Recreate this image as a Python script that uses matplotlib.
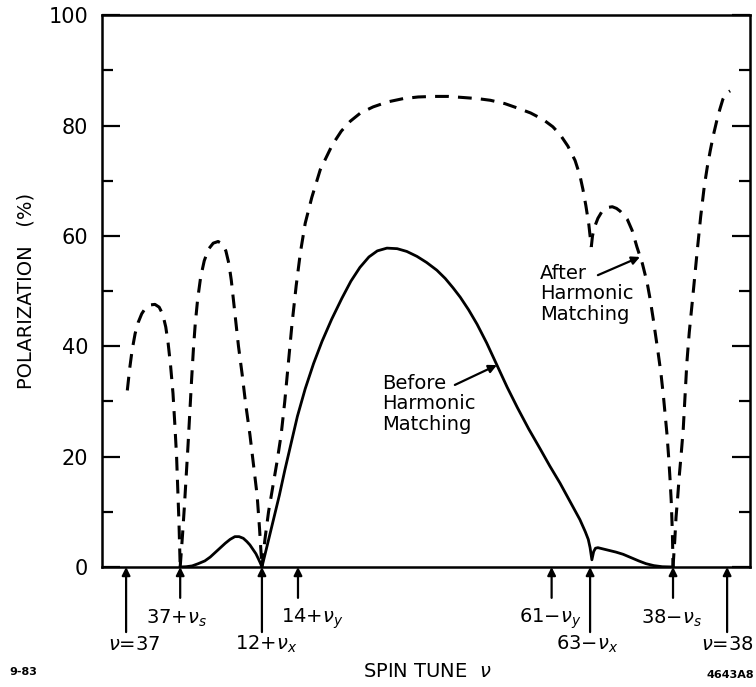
import numpy as np
import matplotlib
matplotlib.use("Agg")
import matplotlib.pyplot as plt
from matplotlib.ticker import MultipleLocator

# polarization after harmonic matching (dashed), one list per stretch between resonances
after_nu = [
    [37.002, 37.006, 37.010, 37.015, 37.020, 37.026, 37.032, 37.040, 37.048, 37.055, 37.061,
     37.066, 37.070, 37.074, 37.078, 37.081, 37.084, 37.086, 37.088, 37.090],
    [37.090, 37.094, 37.097, 37.100, 37.103, 37.106, 37.109, 37.112, 37.115, 37.119, 37.124,
     37.130, 37.137, 37.145, 37.153, 37.160, 37.166, 37.171, 37.175, 37.179, 37.183, 37.187,
     37.193, 37.199, 37.206, 37.212, 37.218, 37.222, 37.226],
    [37.226, 37.231, 37.237, 37.244, 37.251, 37.258, 37.264, 37.270, 37.276, 37.283, 37.290,
     37.298, 37.309, 37.323, 37.343, 37.358, 37.373, 37.390, 37.411, 37.435, 37.461, 37.486,
     37.511, 37.536, 37.561, 37.585, 37.606, 37.630, 37.651, 37.673, 37.694, 37.710, 37.722,
     37.735, 37.747, 37.755, 37.760, 37.765, 37.770, 37.774],
    [37.774, 37.776, 37.779, 37.785, 37.791, 37.797, 37.803, 37.809, 37.816, 37.822, 37.828,
     37.834, 37.842, 37.850, 37.859, 37.867, 37.872, 37.877, 37.881, 37.885, 37.890, 37.894,
     37.897, 37.900, 37.903, 37.905, 37.907, 37.909, 37.910],
    [37.910, 37.913, 37.915, 37.918, 37.920, 37.924, 37.927, 37.930, 37.933, 37.937, 37.942,
     37.946, 37.950, 37.956, 37.962, 37.967, 37.972, 37.977, 37.983, 37.988, 37.993, 37.998,
     38.005],
]
after_pol = [
    [32, 36, 39.3, 42.3, 44.3, 45.9, 46.9, 47.5, 47.6, 47.1, 45.8,
     43.5, 40.5, 36.5, 31.5, 26, 20, 14, 8, 0],
    [0, 6, 11, 16.5, 22, 28, 34, 39.5, 44, 48.5, 52.5,
     55.5, 57.6, 58.7, 59, 58.6, 57.3, 55, 52, 48, 44, 40,
     35, 29.5, 24, 18.5, 13, 7, 0],
    [0, 5, 10, 14.5, 19, 24, 30, 37, 44, 51, 57,
     62.3, 67, 72, 76.5, 79, 80.8, 82.3, 83.4, 84.3, 84.9, 85.2,
     85.3, 85.3, 85.1, 84.9, 84.6, 84, 83.2, 82.3, 81.1, 79.8, 78.4,
     76.3, 73.7, 71, 68.5, 65.5, 62, 58],
    [58, 60, 61.5, 63.2, 64.3, 64.9, 65.2, 65.3, 65, 64.5, 63.8,
     63, 61, 58, 55, 51.5, 48.5, 45, 42, 39, 35, 31,
     27.5, 24, 19.5, 16, 12, 6, 0],
    [0, 5, 9, 13, 16, 21, 25, 31, 37, 42.5, 48,
     52.5, 57, 63.5, 69, 72.5, 75.5, 78.2, 81, 83, 84.8, 85.8,
     86.3],
]

# polarization before harmonic matching (solid)
before_nu = [37.090, 37.100, 37.110, 37.120, 37.131, 37.140, 37.148, 37.157, 37.165, 37.173,
             37.181, 37.188, 37.195, 37.201, 37.206, 37.211, 37.216, 37.220, 37.223, 37.226,
             37.235, 37.245, 37.255, 37.264, 37.273, 37.285, 37.298, 37.312, 37.326, 37.342,
             37.359, 37.374, 37.389, 37.404, 37.418, 37.434, 37.451, 37.467, 37.484, 37.500,
             37.517, 37.531, 37.544, 37.556, 37.570, 37.584, 37.600, 37.617, 37.634, 37.651,
             37.670, 37.689, 37.705, 37.722, 37.738, 37.755, 37.764, 37.769, 37.772, 37.775,
             37.778, 37.781, 37.785, 37.800, 37.815, 37.827, 37.840, 37.853, 37.865, 37.878,
             37.892, 37.910]
before_pol = [0, 0.05, 0.2, 0.6, 1.1, 1.8, 2.6, 3.5, 4.3, 5.0,
              5.5, 5.5, 5.2, 4.6, 4.0, 3.2, 2.4, 1.5, 0.8, 0,
              4, 8.5, 13, 17.5, 21.7, 27.3, 32.3, 36.9, 40.9, 44.9,
              48.7, 51.8, 54.3, 56.2, 57.3, 57.8, 57.7, 57.2, 56.3, 55.2,
              53.8, 52.3, 50.6, 48.9, 46.6, 44, 40.6, 36.6, 32.6, 28.9,
              25, 21.4, 18.3, 15.2, 12, 8.6, 6.4, 5, 3.5, 1.3,
              2.8, 3.4, 3.5, 3.1, 2.7, 2.3, 1.7, 1.1, 0.6, 0.25,
              0.05, 0]

# depolarizing resonances marked under the axis
res_nu = [37.000, 37.090, 37.226, 37.286, 37.708, 37.772, 37.910, 38.000]
res_labels = [r"$\nu$=37", r"37+$\nu_s$", r"12+$\nu_x$", r"14+$\nu_y$",
              r"61$-\nu_y$", r"63$-\nu_x$", r"38$-\nu_s$", r"$\nu$=38"]
res_row = [1, 0, 1, 0, 0, 1, 0, 1]          # 0 = upper label row, 1 = lower
res_dx = [6, -3, 3, 10, -1, -2, -1, 0]       # label shift in points

yticks = [0, 20, 40, 60, 80, 100]

fig = plt.figure(figsize=(7.56, 6.87), dpi=100)
ax = fig.add_axes([0.135, 0.1747, 0.857, 0.803])

for xs, ys in zip(after_nu, after_pol):
    ax.plot(xs, ys, color="k", lw=2.2, ls=(0, (4.5, 3.0)), dash_capstyle="butt")
ax.plot(before_nu, before_pol, color="k", lw=2.0)

ax.set_xlim(36.960, 38.038)
ax.set_ylim(0, 100)
ax.set_xticks([])
ax.set_yticks(yticks)
ax.yaxis.set_minor_locator(MultipleLocator(10))
ax.tick_params(axis="y", which="both", direction="in", left=True, right=True,
               width=1.6, labelsize=15, pad=10)
ax.tick_params(axis="y", which="major", length=13)
ax.tick_params(axis="y", which="minor", length=8)
for s in ax.spines.values():
    s.set_linewidth(1.8)

ax.set_ylabel("POLARIZATION   (%)", fontsize=14, labelpad=9)

# resonance arrows below the axis
trans = ax.get_xaxis_transform()
for nu, lab, row, dx in zip(res_nu, res_labels, res_row, res_dx):
    tail = -0.056 if row == 0 else -0.118
    ax.annotate("", xy=(nu, 0), xycoords=trans, xytext=(nu, tail), textcoords=trans,
                arrowprops=dict(arrowstyle="-|>", color="k", lw=1.6, mutation_scale=12,
                                shrinkA=0, shrinkB=0),
                annotation_clip=False)
    ty = -0.094 if row == 0 else -0.140
    ax.annotate(lab, xy=(nu, ty), xycoords=trans, xytext=(dx, 0), textcoords="offset points",
                ha="center", va="center", fontsize=14, annotation_clip=False)

# curve labels
arrow_kw = dict(arrowstyle="-|>", color="k", lw=1.6, mutation_scale=12, shrinkA=0, shrinkB=0)
ax.text(37.426, 35.0, "Before\nHarmonic\nMatching", ha="left", va="top",
        fontsize=14, linespacing=1.1)
ax.annotate("", xy=(37.617, 36.6), xytext=(37.547, 33.0), arrowprops=arrow_kw)
ax.text(37.689, 55.0, "After\nHarmonic\nMatching", ha="left", va="top",
        fontsize=14, linespacing=1.1)
ax.annotate("", xy=(37.855, 56.2), xytext=(37.785, 52.9), arrowprops=arrow_kw)

fig.text(0.565, 0.022, r"SPIN TUNE  $\nu$", fontsize=14, ha="center", va="center")
fig.text(0.013, 0.022, "9-83", fontsize=8, fontweight="bold", ha="left", va="center")
fig.text(0.998, 0.018, "4643A8", fontsize=8, fontweight="bold", ha="right", va="center")

fig.savefig("out.png", dpi=100)
